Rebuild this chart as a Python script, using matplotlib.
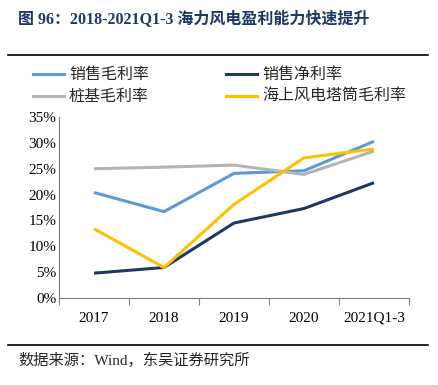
import matplotlib
matplotlib.use("Agg")
import matplotlib.pyplot as plt
from matplotlib.lines import Line2D

plt.rcParams['font.family'] = ['Liberation Serif', 'Noto Sans CJK SC', 'DejaVu Sans']

categories = ['2017', '2018', '2019', '2020', '2021Q1-3']
gross_margin = [20.4, 16.7, 24.1, 24.6, 30.3]
net_margin = [4.8, 5.9, 14.5, 17.3, 22.3]
pile_margin = [25.0, 25.3, 25.7, 23.9, 28.4]
tower_margin = [13.4, 5.9, 18.1, 27.1, 28.8]
series_names = ['销售毛利率', '销售净利率', '桩基毛利率', '海上风电塔筒毛利率']
colors = ['#5B9BD5', '#1F3864', '#B4B4B4', '#FFC000']
yticks = [0, 5, 10, 15, 20, 25, 30, 35]

W, H = 439, 385
fig = plt.figure(figsize=(W / 100, H / 100), dpi=100)
ax = fig.add_axes([59 / W, 1 - 298 / H, (409 - 59) / W, (298 - 117) / H])

x = list(range(len(categories)))
for vals, c in zip([gross_margin, net_margin, pile_margin, tower_margin], colors):
    ax.plot(x, vals, color=c, lw=2.2, solid_capstyle='butt')

ax.set_xlim(-0.5, len(categories) - 0.5)
ax.set_ylim(0, 35)
ax.set_yticks(yticks)
ax.set_yticklabels([f'{v}%' for v in yticks], fontsize=11)
ax.set_xticks([i - 0.5 for i in range(len(categories) + 1)])
ax.set_xticklabels([])
ax.set_xticks(x, minor=True)
ax.set_xticklabels(categories, minor=True, fontsize=11)
ax.tick_params(axis='x', which='major', length=5, direction='out', color='#7F7F7F')
ax.tick_params(axis='x', which='minor', length=0, pad=10)
ax.tick_params(axis='y', length=0, pad=2)
for s in ['top', 'right']:
    ax.spines[s].set_visible(False)
ax.spines['left'].set_color('#7F7F7F')
ax.spines['bottom'].set_color('#7F7F7F')

# Title
fig.text(18 / W, 1 - 20 / H, '图 96：2018-2021Q1-3 海力风电盈利能力快速提升',
         fontsize=11.5, fontweight='bold', color='#1F3864', va='center', ha='left')

# Rules
fig.add_artist(Line2D([8 / W, 428 / W], [1 - 55 / H, 1 - 55 / H], color='black', lw=1.2))
fig.add_artist(Line2D([8 / W, 428 / W], [1 - 345 / H, 1 - 345 / H], color='black', lw=1.2))

# Legend
leg_pos = [(33, 74), (226, 74), (33, 96), (226, 96)]
for (lx, ly), name, c in zip(leg_pos, series_names, colors):
    fig.add_artist(Line2D([lx / W, (lx + 31) / W], [1 - ly / H, 1 - ly / H], color=c, lw=2.2))
    fig.text((lx + 36) / W, 1 - ly / H, name, fontsize=11.5, va='center', ha='left',
             family=['Noto Sans CJK SC'], color='#262626')

# Source
fig.text(18 / W, 1 - 360 / H, '数据来源：Wind，东吴证券研究所', fontsize=11, va='center', ha='left',
         color='#262626')

fig.savefig('out.png', dpi=100)
